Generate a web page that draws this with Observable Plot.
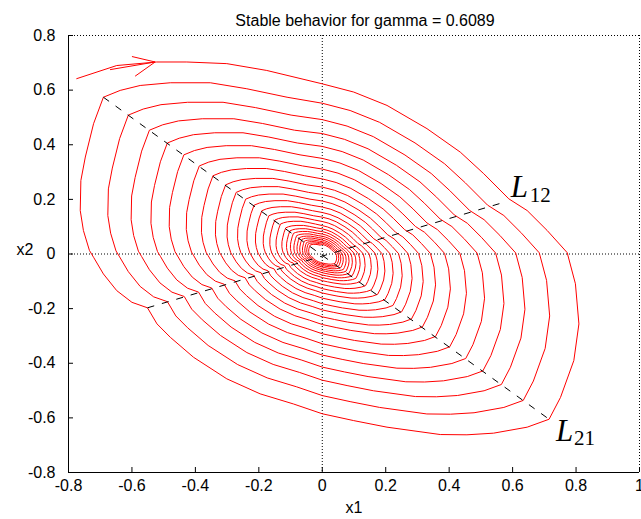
<!DOCTYPE html>
<html>
<head>
<meta charset="utf-8">
<script src="https://cdn.jsdelivr.net/npm/d3@7"></script>
<script src="https://cdn.jsdelivr.net/npm/@observablehq/plot@0.6"></script>
<style>
  body { margin: 0; background: #fff; }
  svg { display: block; }
</style>
</head>
<body>
<div id="chart"></div>
<script>
// ---------- data ----------
const title = "Stable behavior for gamma = 0.6089";
const xLabel = "x1";
const yLabel = "x2";
const xTicks = [-0.8, -0.6, -0.4, -0.2, 0, 0.2, 0.4, 0.6, 0.8, 1];
const yTicks = [-0.8, -0.6, -0.4, -0.2, 0, 0.2, 0.4, 0.6, 0.8];

// initial piece of the trajectory (from the start point to the first crossing of x1 = 0)
const startX = [-0.774, -0.648, -0.522, -0.427, -0.301, -0.175];
const startY = [0.642, 0.690, 0.703, 0.703, 0.697, 0.672];

// one revolution of the outermost turn, clockwise, starting on x1 = 0 (x2 > 0)
const turnX = [0, 0.099, 0.204, 0.330, 0.435, 0.509, 0.588, 0.646, 0.709, 0.772, 0.798, 0.809, 0.793, 0.751, 0.715,
  0.646, 0.540, 0.456, 0.372, 0.204, 0.099, 0, -0.091, -0.196, -0.301, -0.406, -0.479, -0.521, -0.551,
  -0.600, -0.648, -0.690, -0.721, -0.734, -0.753, -0.763, -0.761, -0.747, -0.721, -0.690,
  -0.637, -0.574, -0.479, -0.353, -0.238, -0.111];
const turnY = [0.623, 0.593, 0.544, 0.459, 0.373, 0.294, 0.202, 0.159, 0.086, 0.005, -0.109, -0.256, -0.390, -0.525, -0.605,
  -0.634, -0.656, -0.662, -0.661, -0.634, -0.610, -0.585, -0.549, -0.512, -0.457, -0.378, -0.305, -0.256, -0.197,
  -0.177, -0.134, -0.073, -0.012, 0.013, 0.086, 0.159, 0.269, 0.355, 0.477, 0.574,
  0.599, 0.617, 0.627, 0.627, 0.605, 0.574];

// x2 value where each successive turn crosses x1 = 0 (upper half)
const turnTop = [0.623, 0.552, 0.492, 0.441, 0.394, 0.350, 0.311, 0.275, 0.245, 0.218, 0.194, 0.172, 0.152,
  0.135, 0.119, 0.104, 0.092, 0.082, 0.073, 0.065, 0.058, 0.051, 0.045, 0.040, 0.035];

// switching lines (dashed)
const l12X = [-0.551, 0.575];
const l12Y = [-0.197, 0.190];
const l21X = [-0.690, 0.715];
const l21Y = [0.574, -0.605];
const lineNames = ["L", "L"];
const lineSubs = ["12", "21"];

// direction arrow at the start
const arrowTipX = -0.527, arrowTipY = 0.703;
const arrowTailX = [-0.669, -0.600, -0.590];
const arrowTailY = [0.675, 0.723, 0.651];

// ---------- build tables ----------
const traj = startX.map((x, i) => ({x1: x, x2: startY[i]}));
turnTop.forEach((top) => {
  const f = top / turnTop[0];
  turnX.forEach((x, i) => traj.push({x1: x * f, x2: turnY[i] * f}));
});
const switching = [
  {x1: l12X[0], y1: l12Y[0], x2: l12X[1], y2: l12Y[1]},
  {x1: l21X[0], y1: l21Y[0], x2: l21X[1], y2: l21Y[1]}
];
const arrowBarbs = arrowTailX.map((x, i) => ({x1: x, y1: arrowTailY[i], x2: arrowTipX, y2: arrowTipY}));
const lab12 = [{x: l12X[1], y: l12Y[1], name: lineNames[0], sub: lineSubs[0]}];
const lab21 = [{x: l21X[1], y: l21Y[1], name: lineNames[1], sub: lineSubs[1]}];

const fmt = (d) => String(d);
const serif = "'Liberation Serif', 'DejaVu Serif', serif";
const nameStyle = {x: "x", y: "y", text: "name", textAnchor: "start", lineAnchor: "bottom",
  fontFamily: serif, fontStyle: "italic", fontSize: 31, fill: "#000"};
const subStyle = {x: "x", y: "y", text: "sub", textAnchor: "start", lineAnchor: "bottom",
  fontFamily: serif, fontSize: 21, fill: "#000"};

const chart = Plot.plot({
  width: 641,
  height: 519,
  marginLeft: 68,
  marginRight: 2,
  marginTop: 35,
  marginBottom: 47,
  style: {fontFamily: "'Liberation Sans', Arial, sans-serif", fontSize: "16px", background: "#fff", color: "#000"},
  x: {domain: [-0.8, 1]},
  y: {domain: [-0.8, 0.8]},
  marks: [
    // dotted box (top/right) and dotted zero lines
    Plot.ruleY([0.8], {stroke: "#000", strokeWidth: 1, strokeDasharray: "1,2"}),
    Plot.ruleX([1], {stroke: "#000", strokeWidth: 1, strokeDasharray: "1,2"}),
    Plot.ruleX([0], {stroke: "#000", strokeWidth: 1, strokeDasharray: "1,2"}),
    Plot.ruleY([0], {stroke: "#000", strokeWidth: 1, strokeDasharray: "1,2"}),
    // trajectory
    Plot.line(traj, {x: "x1", y: "x2", stroke: "#ff0000", strokeWidth: 1, curve: "linear"}),
    Plot.link(arrowBarbs, {x1: "x1", y1: "y1", x2: "x2", y2: "y2", stroke: "#ff0000", strokeWidth: 1}),
    // switching lines
    Plot.link(switching, {x1: "x1", y1: "y1", x2: "x2", y2: "y2", stroke: "#000", strokeWidth: 1, strokeDasharray: "7,8"}),
    // labels L12, L21
    Plot.text(lab12, {...nameStyle, dx: 6, dy: -5}),
    Plot.text(lab12, {...subStyle, dx: 25, dy: 0}),
    Plot.text(lab21, {...nameStyle, dx: 7, dy: 22}),
    Plot.text(lab21, {...subStyle, dx: 25, dy: 26}),
    // solid left and bottom axes
    Plot.ruleX([-0.8], {stroke: "#000", strokeWidth: 1}),
    Plot.ruleY([-0.8], {stroke: "#000", strokeWidth: 1}),
    Plot.axisX(xTicks, {anchor: "bottom", tickSize: -5, tickPadding: 12, tickFormat: fmt, label: null, fontSize: 16}),
    Plot.axisY(yTicks, {anchor: "left", tickSize: -5, tickPadding: 18, tickFormat: fmt, label: null, fontSize: 16}),
    // title and axis labels
    Plot.text([title], {frameAnchor: "top", dx: 11, dy: -21, fontSize: 16}),
    Plot.text([xLabel], {frameAnchor: "bottom", dy: 40, fontSize: 16}),
    Plot.text([yLabel], {frameAnchor: "left", dx: -52, dy: -4, fontSize: 16})
  ]
});

document.getElementById("chart").append(chart);
</script>
</body>
</html>
